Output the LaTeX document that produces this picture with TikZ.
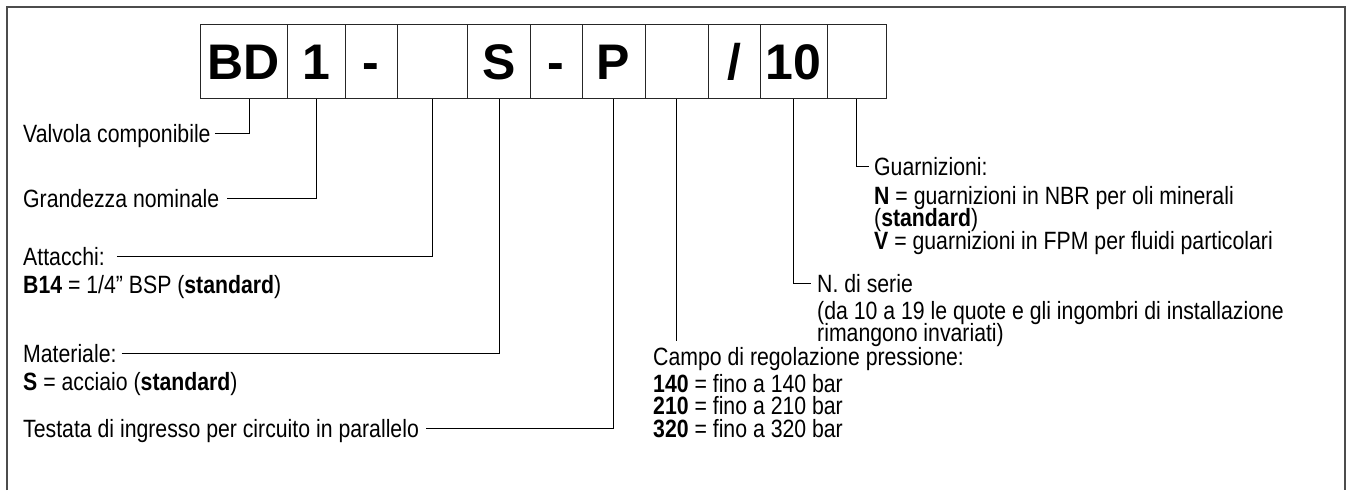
\documentclass[tikz,border=0pt]{standalone}
\usepackage{fontspec}
\setmainfont{Liberation Sans}[FakeStretch=0.85]
\newfontfamily\boxfont{Liberation Sans}
\begin{document}
\begin{tikzpicture}[x=1pt,y=-1pt,
  box/.style={draw=black!85, line width=0.9pt, inner sep=0pt, minimum height=74.7pt,
    text height=36pt, text depth=0pt, font=\boxfont\fontsize{50}{50}\selectfont\bfseries},
  lbl/.style={anchor=west, inner sep=0pt, text height=18pt, text depth=0pt, font=\fontsize{25}{22.5}\selectfont},
  conn/.style={draw=black, line width=0.9pt},
  frame/.style={draw=black!70, line width=2pt}]
\useasboundingbox (0,0) rectangle (1351,490);
\draw[frame] (7.3,490) -- (7.3,6.7) -- (1344.7,6.7) -- (1344.7,490);
% code boxes
\node[box, minimum width=86.3pt] (b1) at (243.85,61.35) {BD};
\node[box, minimum width=58pt]   (b2) at (316,61.35) {1};
\node[box, minimum width=52.3pt] (b3) at (371.15,61.35) {-};
\node[box, minimum width=70.4pt] (b4) at (432.5,61.35) {};
\node[box, minimum width=62.6pt] (b5) at (499,61.35) {S};
\node[box, minimum width=52pt]   (b6) at (556.3,61.35) {-};
\node[box, minimum width=62.7pt] (b7) at (613.65,61.35) {P};
\node[box, minimum width=63.3pt] (b8) at (676.65,61.35) {};
\node[box, minimum width=51.7pt] (b9) at (734.15,61.35) {/};
\node[box, minimum width=67pt]   (b10) at (793.5,61.35) {10};
\node[box, minimum width=59.7pt] (b11) at (856.85,61.35) {};
% left labels
\node[lbl] (l1) at (23,133) {Valvola componibile};
\node[lbl] (l2) at (23,198) {Grandezza nominale};
\node[lbl] (l3) at (23,256) {Attacchi:};
\node[lbl] (l3a) at (23,284) {\textbf{B14} = 1/4” BSP (\textbf{standard})};
\node[lbl] (l4) at (23,353) {Materiale:};
\node[lbl] (l4a) at (23,381) {\textbf{S} = acciaio (\textbf{standard})};
\node[lbl] (l5) at (23,428) {Testata di ingresso per circuito in parallelo};
% right labels
\node[lbl] (r1) at (874,166) {Guarnizioni:};
\node[lbl] (r1a) at (874,195) {\textbf{N} = guarnizioni in NBR per oli minerali};
\node[lbl] (r1b) at (874,217.5) {(\textbf{standard})};
\node[lbl] (r1c) at (874,240) {\textbf{V} = guarnizioni in FPM per fluidi particolari};
\node[lbl] (r2) at (817,283) {N. di serie};
\node[lbl] (r2a) at (817,310) {(da 10 a 19 le quote e gli ingombri di installazione};
\node[lbl] (r2b) at (817,332.5) {rimangono invariati)};
\node[lbl] (r3) at (653,356) {Campo di regolazione pressione:};
\node[lbl] (r3a) at (653,383) {\textbf{140} = fino a 140 bar};
\node[lbl] (r3b) at (653,405.5) {\textbf{210} = fino a 210 bar};
\node[lbl] (r3c) at (653,428) {\textbf{320} = fino a 320 bar};
% connectors
\draw[conn] ([xshift=4pt]l1.east) -| ([xshift=5.5pt]b1.south);
\draw[conn] ([xshift=8pt]l2.east) -| (b2.south);
\draw[conn] ([xshift=12pt]l3.east) -| (b4.south);
\draw[conn] ([xshift=5pt]l4.east) -| (b5.south);
\draw[conn] ([xshift=7pt]l5.east) -| (b7.south);
\draw[conn] (b8.south) -- ([yshift=6pt]b8.south |- r3.north);
\draw[conn] (b10.south) |- ([xshift=-6pt]r2.west);
\draw[conn] (b11.south) |- ([xshift=-5pt]r1.west);
\end{tikzpicture}
\end{document}
